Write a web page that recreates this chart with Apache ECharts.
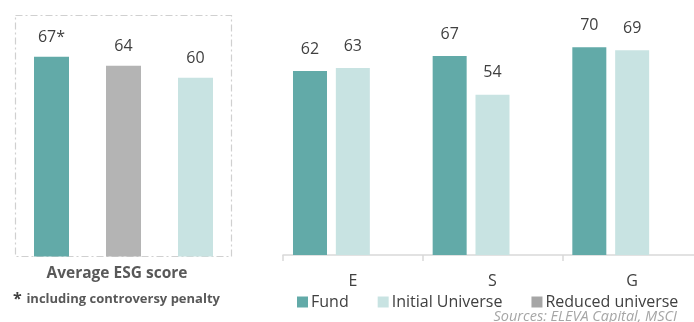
<!DOCTYPE html>
<html><head><meta charset="utf-8">
<script src="https://cdn.jsdelivr.net/npm/echarts@6/dist/echarts.min.js"></script>
<style>html,body{margin:0;padding:0;background:#fff}#c{width:694px;height:322px}</style>
</head><body><div id="c"></div>
<script>
// Left panel: average ESG score
const avgCategories = ['Fund', 'Reduced universe', 'Initial Universe'];
const avgValues = [67, 64, 60];
const avgLabels = ['67*', '64', '60'];
// Right panel: E / S / G pillars
const pillarCategories = ['E', 'S', 'G'];
const fundValues = [62, 67, 70];
const initialValues = [63, 54, 69];
const reducedValues = ['-', '-', '-'];
const legendNames = ['Fund', 'Initial Universe', 'Reduced universe'];

const C_FUND = '#62AAA8', C_INIT = '#C8E3E2', C_RED_BAR = '#B4B4B4', C_RED_LEG = '#A6A6A6';
const FONT = 'Open Sans';
const avgColors = [C_FUND, C_RED_BAR, C_INIT];

const chart = echarts.init(document.getElementById('c'));
chart.setOption({
  animation: false,
  textStyle: { fontFamily: FONT },
  title: [
    { text: 'Average ESG score', left: 112, textAlign: 'center', top: 261,
      textStyle: { fontSize: 15.5, fontWeight: 'bold', color: '#595959', fontFamily: FONT } },
    { text: '{a|*} {b|including controversy penalty}', left: 8, top: 285,
      textStyle: { rich: {
        a: { fontSize: 16, fontWeight: 'bold', color: '#404040', fontFamily: FONT },
        b: { fontSize: 13, fontWeight: 'bold', color: '#595959', fontFamily: FONT } } } },
    { text: 'Sources: ELEVA Capital, MSCI', right: 12, top: 304,
      textStyle: { fontSize: 14.5, fontStyle: 'italic', fontWeight: 'normal', color: '#A6A6A6', fontFamily: FONT } }
  ],
  legend: {
    data: legendNames, left: 292, top: 289, itemWidth: 11, itemHeight: 11, itemGap: 29, icon: 'rect',
    textStyle: { fontSize: 16, color: '#404040', fontFamily: FONT, padding: [0, 0, 0, -2] }
  },
  graphic: [{
    type: 'rect', shape: { x: 15.5, y: 15.5, width: 216, height: 241 },
    style: { fill: 'none', stroke: '#D0D0D0', lineWidth: 1.2, lineDash: [7, 3, 2, 3] }, silent: true
  }],
  grid: [
    { left: 15.5, width: 216, top: 18, height: 238.5, outerBoundsMode: 'none' },
    { left: 283, width: 419, top: 17.5, height: 237.5, outerBoundsMode: 'none' }
  ],
  xAxis: [
    { gridIndex: 0, type: 'category', data: avgCategories, show: false },
    { gridIndex: 1, type: 'category', data: pillarCategories,
      axisLine: { lineStyle: { color: '#D9D9D9', width: 1.5 } },
      axisTick: { show: true, length: 6, lineStyle: { color: '#D9D9D9', width: 1.5 } },
      axisLabel: { margin: 18, fontSize: 16, color: '#404040', fontFamily: FONT } }
  ],
  yAxis: [
    { gridIndex: 0, type: 'value', min: 0, max: 80, show: false },
    { gridIndex: 1, type: 'value', min: 0, max: 80, show: false }
  ],
  series: [
    { name: 'Average ESG score', type: 'bar', xAxisIndex: 0, yAxisIndex: 0, barWidth: 35,
      data: avgValues.map((v, i) => ({ value: v, itemStyle: { color: avgColors[i] } })),
      label: { show: true, position: 'top', distance: 11, fontSize: 16, color: '#404040', fontFamily: FONT,
        formatter: p => avgLabels[p.dataIndex] } },
    { name: 'Fund', type: 'bar', xAxisIndex: 1, yAxisIndex: 1, data: fundValues, barWidth: 34, barGap: '26%',
      itemStyle: { color: C_FUND },
      label: { show: true, position: 'top', distance: 14, fontSize: 16, color: '#404040', fontFamily: FONT } },
    { name: 'Initial Universe', type: 'bar', xAxisIndex: 1, yAxisIndex: 1, data: initialValues, barWidth: 34, barGap: '26%',
      itemStyle: { color: C_INIT },
      label: { show: true, position: 'top', distance: 14, fontSize: 16, color: '#404040', fontFamily: FONT } },
    { name: 'Reduced universe', type: 'bar', xAxisIndex: 1, yAxisIndex: 1, data: reducedValues, barWidth: 34, barGap: '26%',
      itemStyle: { color: C_RED_LEG } }
  ]
});
</script></body></html>
